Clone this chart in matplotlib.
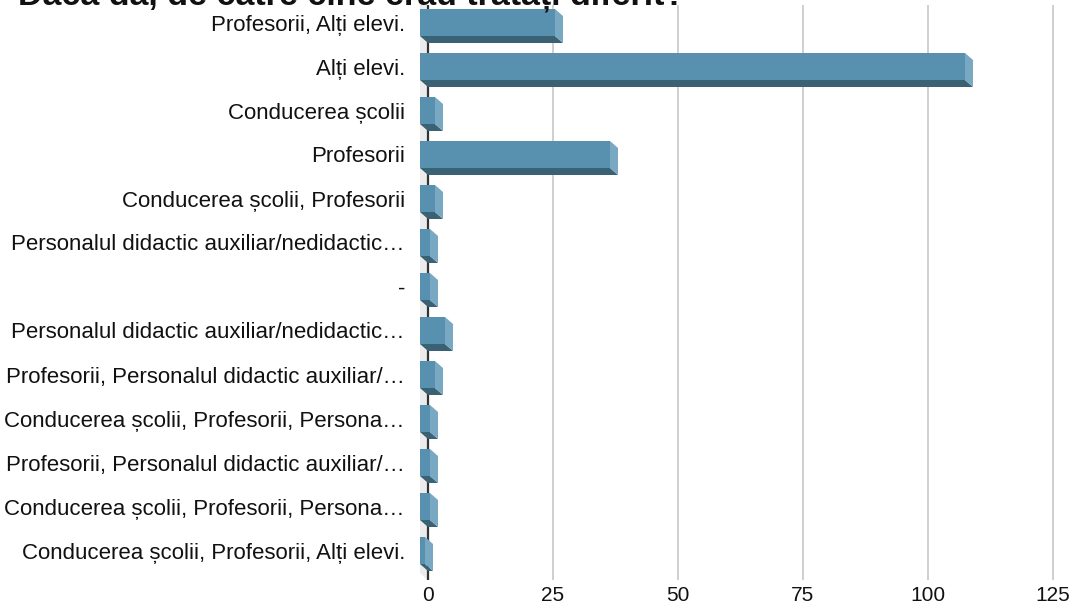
import numpy as np
import matplotlib
matplotlib.use('Agg')
import matplotlib.pyplot as plt
from matplotlib.patches import Polygon

plt.rcParams['font.family'] = ['Liberation Sans', 'DejaVu Sans']

title = 'Dacă da, de către cine erau tratați diferit?'
categories = ['Profesorii, Alți elevi.',
              'Alți elevi.',
              'Conducerea școlii',
              'Profesorii',
              'Conducerea școlii, Profesorii',
              'Personalul didactic auxiliar/nedidactic…',
              '-',
              'Personalul didactic auxiliar/nedidactic…',
              'Profesorii, Personalul didactic auxiliar/…',
              'Conducerea școlii, Profesorii, Persona…',
              'Profesorii, Personalul didactic auxiliar/…',
              'Conducerea școlii, Profesorii, Persona…',
              'Conducerea școlii, Profesorii, Alți elevi.']
values = [27, 109, 3, 38, 3, 2, 2, 5, 3, 2, 2, 2, 1]
xticks = [0, 25, 50, 75, 100, 125]

front = '#5891af'
bottom_c = '#3b6175'
side_c = '#79a8c3'

fig = plt.figure(figsize=(10.72, 6.07), dpi=100)
ax = fig.add_axes([416/1072, 27/607, 650/1072, 575/607])

ytop = (5 - 22.5) / 44
ybot = (580 - 22.5) / 44
ax.set_xlim(-2.4, 127.6)
ax.set_ylim(ybot, ytop)

dx = 1.6     # depth in x units
dy = 7 / 44  # depth in row units
h = 27 / 44  # front face height

# grid
for t in xticks[1:]:
    ax.axvline(t, color='#cccccc', lw=1.3, zorder=0)

# gray wall at zero
ax.add_patch(Polygon([(-dx, ytop), (0, ytop), (0, ybot), (-dx, ybot - dy)],
                     closed=True, facecolor='#ebebeb', edgecolor='none', zorder=1))
ax.axvline(0, color='#333333', lw=1.6, zorder=2)

ys = np.arange(len(values))
ax.barh(ys, values, left=-dx, height=h, color=front, zorder=4, linewidth=0)
for y, v in zip(ys, values):
    y0 = y - h / 2
    y1 = y + h / 2
    # bottom face
    ax.add_patch(Polygon([(-dx, y1), (v - dx, y1), (v, y1 + dy), (0, y1 + dy)],
                         closed=True, facecolor=bottom_c, edgecolor='none', zorder=3))
    # right face
    ax.add_patch(Polygon([(v - dx, y0), (v, y0 + dy), (v, y1 + dy), (v - dx, y1)],
                         closed=True, facecolor=side_c, edgecolor='none', zorder=3))

ax.set_yticks(ys)
ax.set_yticklabels(categories, fontsize=16, color='#111111')
ax.set_xticks(xticks)
ax.set_xticklabels([str(t) for t in xticks], fontsize=15, color='#111111')
ax.tick_params(axis='y', length=0, pad=8)
ax.tick_params(axis='x', length=0, pad=4)
for s in ax.spines.values():
    s.set_visible(False)

fig.text(18/1072, 1 - 5/607, title, fontsize=24.5, fontweight='bold',
         ha='left', va='baseline', color='#111111')

fig.savefig('out.png', dpi=100)
